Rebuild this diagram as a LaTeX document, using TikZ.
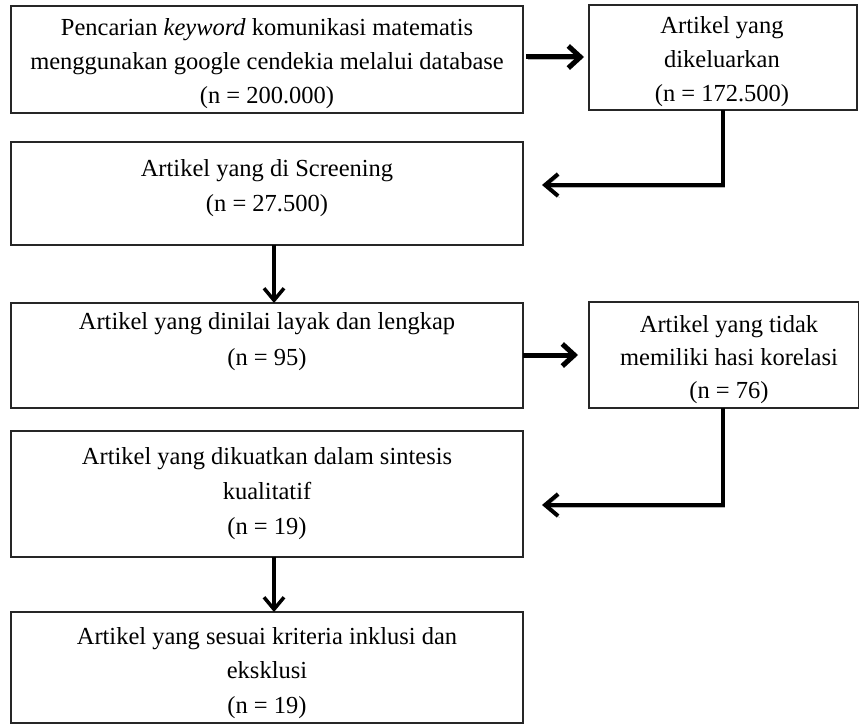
\documentclass[tikz,border=0pt]{standalone}
\usepackage{fontspec}
\setmainfont{Liberation Serif}
\usetikzlibrary{arrows.meta}
\begin{document}
\begin{tikzpicture}[x=1pt,y=-1pt,
  box/.style={draw=black!85,line width=1.3pt,inner sep=0pt,outer sep=0pt,anchor=north west},
  txt/.style={align=center,font=\fontsize{24.5}{#1}\selectfont,inner sep=0pt,anchor=north},
  shadowed/.style={preaction={draw=black!30,transform canvas={shift={(1.5pt,-1.8pt)}}}},
  harrow/.style={shadowed,line width=5pt,-{Straight Barb[length=12pt,width=22pt]}},
  elbow/.style={shadowed,line width=4pt,line join=miter,-{Straight Barb[length=13pt,width=22pt]}},
  varrow/.style={line width=3.5pt,-{Straight Barb[length=12pt,width=20pt]}}
]
\useasboundingbox (0,0) rectangle (859,725);
\fill[white] (0,0) rectangle (859,725);
% boxes
\node[box,minimum width=512pt,minimum height=107pt] (b1) at (11,6) {};
\node[box,minimum width=268pt,minimum height=105pt] (b2) at (589,5) {};
\node[box,minimum width=512pt,minimum height=103pt] (b3) at (11,142) {};
\node[box,minimum width=512pt,minimum height=105pt] (b4) at (11,303) {};
\node[box,minimum width=270pt,minimum height=106pt] (b5) at (589,302) {};
\node[box,minimum width=512pt,minimum height=126pt] (b6) at (11,431) {};
\node[box,minimum width=512pt,minimum height=111pt] (b7) at (11,612) {};
% texts
\node[txt=34] (t1) at (267,18.5) {Pencarian \textit{keyword} komunikasi matematis\\menggunakan google cendekia melalui database\\(n = 200.000)};
\node[txt=34] (t2) at (722,16) {Artikel yang\\dikeluarkan\\(n = 172.500)};
\node[txt=35] (t3) at (267,159.5) {Artikel yang di Screening\\(n = 27.500)};
\node[txt=36.5] (t4) at (267,312) {Artikel yang dinilai layak dan lengkap\\(n = 95)};
\node[txt=33] (t5) at (729,315) {Artikel yang tidak\\memiliki hasi korelasi\\(n = 76)};
\node[txt=35] (t6) at (267,447) {Artikel yang dikuatkan dalam sintesis\\kualitatif\\(n = 19)};
\node[txt=34.5] (t7) at (267,627) {Artikel yang sesuai kriteria inklusi dan\\eksklusi\\(n = 19)};
% connector points
\coordinate (e1) at (723,185);
\coordinate (e2) at (723,505);
% arrows
\draw[harrow] ([xshift=3pt]b1.east |- 0,57) -- ([xshift=-5pt]b2.west |- 0,57);
\draw[elbow] (b2.south -| e1) -- (e1) -- ([xshift=19pt]b3.east |- e1);
\draw[varrow] (b3.south -| 274,0) -- (b4.north -| 274,0);
\draw[harrow] (b4.east |- 0,355) -- ([xshift=-11pt]b5.west |- 0,355);
\draw[elbow] (b5.south -| e2) -- (e2) -- ([xshift=19pt]b6.east |- e2);
\draw[varrow] (b6.south -| 274,0) -- (b7.north -| 274,0);
\end{tikzpicture}
\end{document}
